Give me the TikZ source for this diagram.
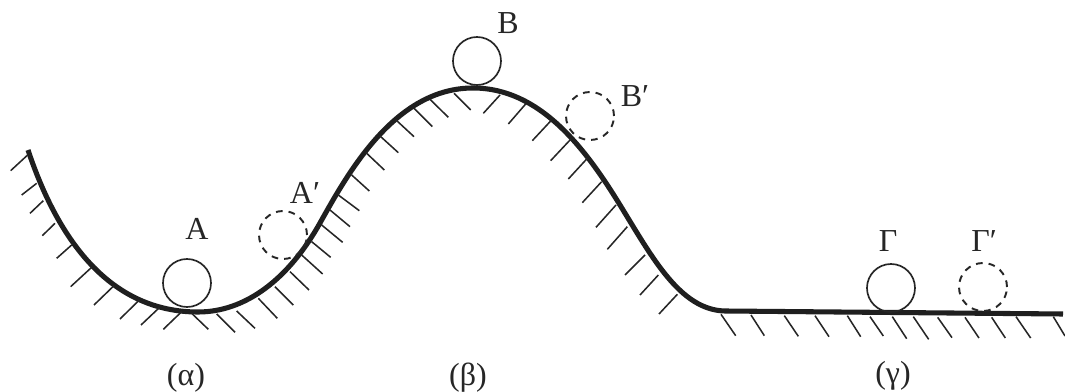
\documentclass[tikz,border=0pt]{standalone}
\usepackage{fontspec}
\setmainfont{Liberation Serif}
\tikzset{
  ground/.style={line width=3.8pt,line join=round,draw=black!88},
  hatch/.style={line width=1.15pt,draw=black!85},
  ball/.style={circle,draw=black!85,line width=1.25pt,minimum size=36pt,inner sep=0pt},
  ghost/.style={ball,line width=1.45pt,dash pattern=on 5pt off 4.5pt},
  lab/.style={font=\fontsize{24}{28}\selectfont,text=black!85,inner sep=0pt}
}
\begin{document}
\begin{tikzpicture}[x=0.75pt,y=-0.75pt]
\useasboundingbox[fill=white] (0,0) rectangle (1065,392);
% ground curve
\draw[ground] (28,150)
  .. controls (58,240) and (110,312) .. (198,312)
  .. controls (245,312) and (288,280) .. (320,223)
  .. controls (348,173) and (395,88) .. (473,88)
  .. controls (540,88) and (585,148) .. (620,205)
  .. controls (652,257) and (680,310) .. (725,311)
  -- (1063,314);
% hatching, in the coordinates of the three crops
\begin{scope}[shift={(0,130)},scale=0.33333]
\foreach \a/\b/\c/\d in {83/75/32/122,110/160/65/195,130/212/90/250,165/280/127/317,
 215/345/170/385,275/412/212/470,342/467/282/525,418/510/360/567,478/533/423/585,
 545/545/490/598,575/550/625/598,650/552/705/607,710/543/765/595,775/505/832/565,
 825/470/880/525,870/425/927/480,905/375/968/432,935/335/992/382,965/285/1028/337,
 990/240/1050/290,1015/195/1078/242}
  \draw[hatch] (\a,\b) -- (\c,\d);
\end{scope}
\begin{scope}[shift={(340,0)},scale=0.33333]
\foreach \a/\b/\c/\d in {35/525/88/573,78/458/133/510,120/408/175/458,168/360/222/410,
 222/325/277/380,270/298/325/352,342/280/392/330,480/285/430/340,557/312/505/372,
 633/362/577/422,692/418/632/482,742/475/685/537,785/545/727/608,828/615/768/682,
 862/680/802/748,915/765/855/825}
  \draw[hatch] (\a,\b) -- (\c,\d);
\end{scope}
\begin{scope}[shift={(640,200)},scale=0.33333]
\foreach \a/\b/\c/\d in {55/225/0/285,112/283/57/342,243/343/287/407,333/345/373/407,
 433/347/475/409,525/347/567/410,622/347/662/410,690/350/730/408,757/350/800/416,
 820/350/866/418,893/352/936/413,975/352/1017/414,1055/352/1096/414,1128/350/1172/414,
 1240/350/1275/408}
  \draw[hatch] (\a,\b) -- (\c,\d);
\end{scope}
% balls
\node[ball]  (a)  at (187,283) {};
\node[ghost] (a1) at (283,235) {};
\node[ball]  (b)  at (477,61)  {};
\node[ghost] (b1) at (590,116) {};
\node[ball]  (g)  at (891,288) {};
\node[ghost] (g1) at (983,287) {};
% labels
\node[lab] (la)  at (197,229) {A};
\node[lab] (la1) at (305,193) {A′};
\node[lab] (lb)  at (508,23)  {B};
\node[lab] (lb1) at (635,96)  {B′};
\node[lab] (lg)  at (888,241) {Γ};
\node[lab] (lg1) at (984,241) {Γ′};
\node[lab] (ca)  at (186,378) {(α)};
\node[lab] (cb)  at (468,378) {(β)};
\node[lab] (cg)  at (893,376) {(γ)};
\end{tikzpicture}
\end{document}
